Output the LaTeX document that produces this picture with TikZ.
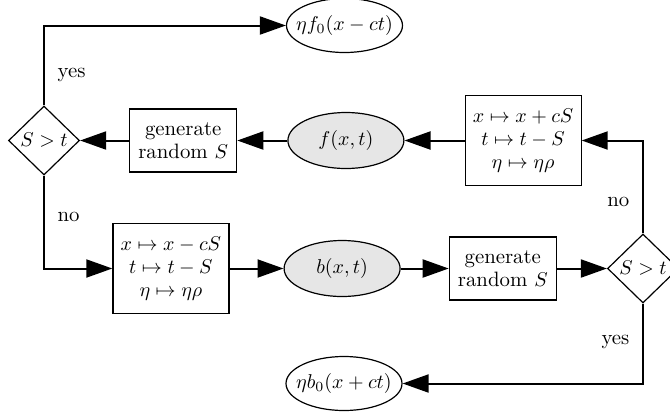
\documentclass[tikz,border=0pt]{standalone}
\usepackage{amsmath,amssymb}
\usepackage{tikz}
\usetikzlibrary{arrows.meta,positioning,shapes.geometric}
\definecolor{StateGray}{HTML}{E6E6E6}

\begin{document}
\begin{tikzpicture}[
    x=0.5pt,y=-0.5pt,
    every node/.style={font=\fontsize{10.4pt}{11.6pt}\selectfont},
    decision/.style={diamond,draw,line width=0.6pt,minimum width=35.5pt,minimum height=34.5pt,inner sep=0pt},
    procbox/.style={rectangle,draw,line width=0.6pt,minimum width=53.5pt,minimum height=31.5pt,align=center,inner sep=2pt},
    mapbox/.style={rectangle,draw,line width=0.6pt,minimum width=58pt,minimum height=45pt,align=center,inner sep=2pt},
    state/.style={ellipse,draw,line width=0.6pt,fill=StateGray,minimum width=58pt,minimum height=28pt},
    terminal/.style={ellipse,draw,line width=0.6pt,inner sep=0pt,minimum width=58pt,minimum height=27pt},
    arr/.style={-{Triangle[length=13pt,width=9pt]},line width=1pt}
  ]
    \useasboundingbox (0,0) rectangle (670,419);
    % upper row, right to left
    \node[decision] (dl) at (44,140.5) {$S>t$};
    \node[procbox,right=24.5pt of dl] (genf) {generate\\random $S$};
    \node[state,right=25pt of genf] (f) {$f(x,t)$};
    \node[mapbox,right=30pt of f] (mapf) {$x\mapsto x+cS$\\$t\mapsto t-S$\\$\eta\mapsto\eta\rho$};
    % lower row, left to right
    \node[decision] (dr) at (643,268.5) {$S>t$};
    \node[procbox,left=25pt of dr] (genb) {generate\\random $S$};
    \node[state,left=24pt of genb] (b) {$b(x,t)$};
    \node[mapbox,left=27pt of b] (mapb) {$x\mapsto x-cS$\\$t\mapsto t-S$\\$\eta\mapsto\eta\rho$};
    % outcomes (text wider than the ellipse, as in the original)
    \node[terminal] (f0) at (344.5,25.5) {\makebox[38pt]{$\eta f_0(x-ct)$}};
    \node[terminal] (b0) at (344,383.5) {\makebox[38pt]{$\eta b_0(x+ct)$}};
    \draw[arr] (mapf) -- (f);
    \draw[arr] (f) -- (genf);
    \draw[arr] (genf) -- (dl);
    \draw[arr] (mapb) -- (b);
    \draw[arr] (b) -- (genb);
    \draw[arr] (genb) -- (dr);
    \draw[arr] (dl.north) |- node[pos=.19,right=3pt]{yes} (f0);
    \draw[arr] (dl.south) |- node[pos=.22,right=3pt]{no} (mapb);
    \draw[arr] (dr.north) |- node[pos=.17,left=3pt]{no} (mapf);
    \draw[arr] (dr.south) |- node[pos=.24,left=3pt]{yes} (b0);
  \end{tikzpicture}
\end{document}
